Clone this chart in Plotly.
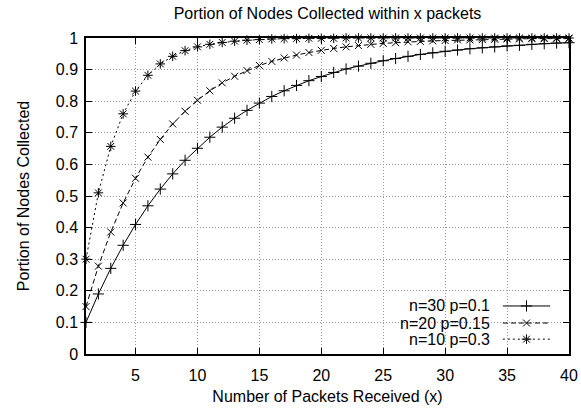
import plotly.graph_objects as go

packets = list(range(1, 41))

series_names = ["n=30 p=0.1", "n=20 p=0.15", "n=10 p=0.3"]

n30_p010 = [0.100, 0.190, 0.271, 0.344, 0.410, 0.469, 0.522, 0.570, 0.613, 0.651,
            0.686, 0.718, 0.746, 0.771, 0.794, 0.815, 0.833, 0.850, 0.865, 0.878,
            0.891, 0.902, 0.911, 0.920, 0.928, 0.935, 0.942, 0.948, 0.953, 0.958,
            0.962, 0.966, 0.969, 0.972, 0.975, 0.977, 0.980, 0.982, 0.984, 0.985]

n20_p015 = [0.150, 0.278, 0.386, 0.478, 0.556, 0.623, 0.679, 0.728, 0.768, 0.803,
            0.833, 0.858, 0.879, 0.897, 0.913, 0.926, 0.937, 0.946, 0.954, 0.961,
            0.967, 0.972, 0.976, 0.980, 0.983, 0.985, 0.988, 0.989, 0.991, 0.992,
            0.994, 0.994, 0.995, 0.996, 0.997, 0.997, 0.998, 0.998, 0.998, 0.998]

n10_p030 = [0.300, 0.510, 0.657, 0.760, 0.832, 0.882, 0.918, 0.942, 0.960, 0.972,
            0.980, 0.986, 0.990, 0.993, 0.995, 0.997, 0.998, 0.998, 0.999, 0.999,
            0.999, 1.000, 1.000, 1.000, 1.000, 1.000, 1.000, 1.000, 1.000, 1.000,
            1.000, 1.000, 1.000, 1.000, 1.000, 1.000, 1.000, 1.000, 1.000, 1.000]

x_ticks = [5, 10, 15, 20, 25, 30, 35, 40]
y_ticks = [0, 0.1, 0.2, 0.3, 0.4, 0.5, 0.6, 0.7, 0.8, 0.9, 1]
y_tick_text = ["0", "0.1", "0.2", "0.3", "0.4", "0.5", "0.6", "0.7", "0.8", "0.9", "1"]

styles = [
    dict(dash="solid", symbol="cross-thin-open", size=8),
    dict(dash="5px,3px", symbol="x-thin-open", size=7),
    dict(dash="2px,3px", symbol="asterisk-open", size=8),
]
all_values = [n30_p010, n20_p015, n10_p030]

FONT = "Liberation Sans, Arial, Helvetica, sans-serif"
FS = 16
fig = go.Figure()

for name, vals, st in zip(series_names, all_values, styles):
    fig.add_trace(go.Scatter(
        x=packets, y=vals, mode="lines+markers", name=name, showlegend=False,
        line=dict(color="black", width=1, dash=st["dash"]),
        marker=dict(symbol=st["symbol"], size=st["size"], color="black",
                    line=dict(color="black", width=1)),
        cliponaxis=False,
    ))

# manual gnuplot-style legend (text right, sample left)
leg_y = [0.152, 0.098, 0.047]
for name, st, yy in zip(series_names, styles, leg_y):
    fig.add_trace(go.Scatter(
        x=[0.863, 0.961], y=[yy, yy], mode="lines", xaxis="x2", yaxis="y2",
        showlegend=False, hoverinfo="skip",
        line=dict(color="black", width=1, dash=st["dash"]),
    ))
    fig.add_trace(go.Scatter(
        x=[0.912], y=[yy], mode="markers", xaxis="x2", yaxis="y2",
        showlegend=False, hoverinfo="skip",
        marker=dict(symbol=st["symbol"], size=st["size"], color="black",
                    line=dict(color="black", width=1)),
    ))
    fig.add_annotation(x=0.841, y=yy, xref="x2 domain", yref="y2", text=name,
                       showarrow=False, xanchor="right", yanchor="middle",
                       font=dict(family=FONT, size=FS, color="black"))

fig.update_layout(
    width=581, height=409,
    margin=dict(l=86, r=12, t=38, b=55),
    paper_bgcolor="white", plot_bgcolor="white",
    font=dict(family=FONT, size=FS, color="black"),
    title=dict(text="Portion of Nodes Collected within x packets",
               x=(86 + 569) / 2 / 581, xanchor="center", y=1 - 13 / 409, yanchor="middle",
               font=dict(family=FONT, size=FS, color="black")),
    xaxis=dict(range=[1, 40], tickvals=x_ticks, ticks="inside", ticklen=6,
               tickcolor="black", showline=True, linecolor="black", linewidth=1.5,
               mirror="ticks", showgrid=True, gridcolor="#999999", griddash="1px,2px",
               gridwidth=1, zeroline=False, ticklabelstandoff=6, automargin=False,
               tickfont=dict(family=FONT, size=FS, color="black"),
               title=dict(text="Number of Packets Received (x)", standoff=8,
                          font=dict(family=FONT, size=FS, color="black"))),
    yaxis=dict(range=[0, 1], tickvals=y_ticks, ticktext=y_tick_text, ticks="inside",
               ticklen=6, tickcolor="black", showline=True, linecolor="black",
               linewidth=1.5, mirror="ticks", showgrid=True, gridcolor="#999999",
               griddash="1px,2px", gridwidth=1, zeroline=False, ticklabelstandoff=3,
               automargin=False,
               tickfont=dict(family=FONT, size=FS, color="black"),
               title=dict(text="Portion of Nodes Collected", standoff=22,
                          font=dict(family=FONT, size=FS, color="black"))),
    xaxis2=dict(overlaying="x", range=[0, 1], visible=False, anchor="y2"),
    yaxis2=dict(overlaying="y", range=[0, 1], visible=False, anchor="x2"),
    showlegend=False,
)

fig.write_html("out.html")
